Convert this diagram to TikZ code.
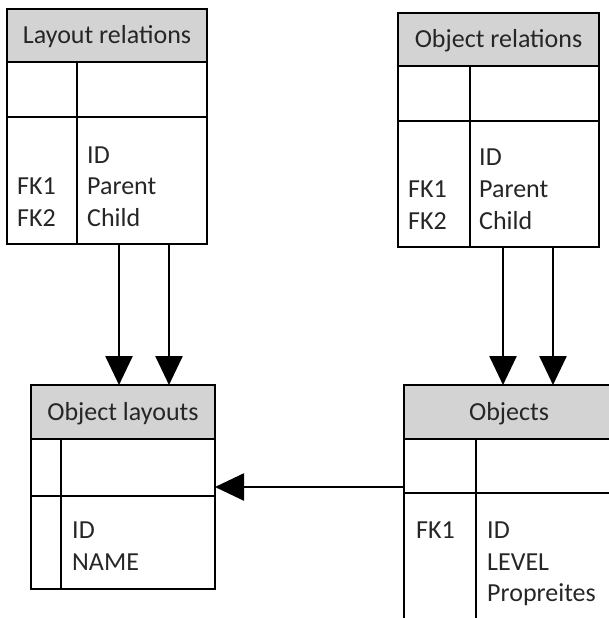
\documentclass[tikz,border=0pt]{standalone}
\usepackage{fontspec}
\setmainfont{Carlito}
\usetikzlibrary{arrows.meta}
\definecolor{hdrgray}{RGB}{211,211,211}
\definecolor{txt}{RGB}{38,38,38}
\tikzset{
  tbl/.style={draw=black, line width=1.3pt, inner sep=0pt, outer sep=0pt, anchor=north west},
  hdr/.style={tbl, fill=hdrgray, text=txt, text height=20pt, text depth=4pt, font=\fontsize{26}{31}\selectfont},
  fld/.style={anchor=base west, inner sep=0pt, text=txt, font=\fontsize{26}{31}\selectfont},
  rule/.style={draw=black, line width=1.3pt},
  fk/.style={draw=black, line width=2.6pt, -{Triangle[length=29pt,width=27pt]}}
}
\begin{document}
\begin{tikzpicture}[x=1pt,y=-1pt]
\useasboundingbox (0,0) rectangle (609,618);
\clip (0,0) rectangle (609,618);

% Layout relations
\node[tbl, minimum width=200pt, minimum height=235pt] (lr) at (7,9) {};
\node[hdr, minimum width=200pt, minimum height=53pt] (lrh) at (7,9) {Layout relations};
\draw[rule] (7,117) -- (207,117);
\draw[rule] (77,62) -- (77,244);
\node[fld] (lrf1) at (87,163) {ID};
\node[fld] (lrf2) at (17,194) {FK1};
\node[fld] (lrf3) at (87,194) {Parent};
\node[fld] (lrf4) at (17,226) {FK2};
\node[fld] (lrf5) at (87,226) {Child};

% Object relations
\node[tbl, minimum width=201pt, minimum height=234pt] (or) at (398,13) {};
\node[hdr, minimum width=201pt, minimum height=53pt] (orh) at (398,13) {Object relations};
\draw[rule] (398,121) -- (599,121);
\draw[rule] (470,66) -- (470,247);
\node[fld] (orf1) at (479,165) {ID};
\node[fld] (orf2) at (408,197) {FK1};
\node[fld] (orf3) at (479,197) {Parent};
\node[fld] (orf4) at (408,229) {FK2};
\node[fld] (orf5) at (479,229) {Child};

% Object layouts
\node[tbl, minimum width=184pt, minimum height=204pt] (ol) at (31,385) {};
\node[hdr, minimum width=184pt, minimum height=54pt] (olh) at (31,385) {Object layouts};
\draw[rule] (31,496) -- (215,496);
\draw[rule] (61,439) -- (61,589);
\node[fld] (olf1) at (72,538) {ID};
\node[fld] (olf2) at (72,570) {NAME};

% Objects (runs past the right and bottom edges)
\node[tbl, minimum width=210pt, minimum height=260pt] (ob) at (404,385) {};
\node[hdr, minimum width=210pt, minimum height=54pt] (obh) at (404,385) {Objects};
\draw[rule] (404,493) -- (614,493);
\draw[rule] (476,439) -- (476,645);
\node[fld] (obf1) at (416,538) {FK1};
\node[fld] (obf2) at (487,538) {ID};
\node[fld] (obf3) at (487,570) {LEVEL};
\node[fld] (obf4) at (487,601) {Propreites};

% Foreign-key connectors
\coordinate (c1) at (119,0);
\coordinate (c2) at (169,0);
\coordinate (c3) at (503,0);
\coordinate (c4) at (553,0);
\coordinate (c5) at (0,487);
\draw[fk] (lr.south -| c1) -- (olh.north -| c1);
\draw[fk] (lr.south -| c2) -- (olh.north -| c2);
\draw[fk] (or.south -| c3) -- (obh.north -| c3);
\draw[fk] (or.south -| c4) -- (obh.north -| c4);
\draw[fk] (ob.west |- c5) -- (ol.east |- c5);
\end{tikzpicture}
\end{document}
